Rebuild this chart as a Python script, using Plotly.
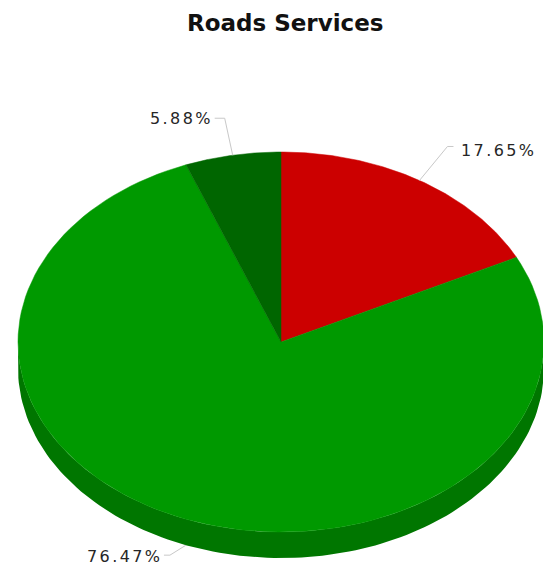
import math
import plotly.graph_objects as go

# Share of road service categories (percent)
categories = ["Category A", "Category B", "Category C"]
values = [17.65, 76.47, 5.88]
slice_colors = ["#cc0000", "#009900", "#006600"]
side_colors = ["#990000", "#007600", "#004c00"]
value_labels = [f"{v:.2f}%" for v in values]

# Pie geometry (axis units equal page pixels)
CX, CY = 281, 342
RX, RY = 263, 190
DEPTH = 26
W, H = 543, 567
SPACING = 2.4


def ellipse_pt(theta_deg, dy=0.0):
    t = math.radians(theta_deg)
    return CX + RX * math.sin(t), CY - RY * math.cos(t) + dy


def arc(a0, a1, dy=0.0, n=120):
    pts = []
    for i in range(n + 1):
        pts.append(ellipse_pt(a0 + (a1 - a0) * i / n, dy))
    return pts


total = sum(values)
bounds = []
acc = 0.0
for v in values:
    start = acc / total * 360.0
    acc += v
    bounds.append((start, acc / total * 360.0))

fig = go.Figure()

# Side wall: only the front half (90..270 deg clockwise from top) is visible
for (a0, a1), col in zip(bounds, side_colors):
    s0, s1 = max(a0, 90.0), min(a1, 270.0)
    if s1 <= s0:
        continue
    top = arc(s0, s1)
    bottom = arc(s1, s0, DEPTH)
    pts = top + bottom + [top[0]]
    fig.add_trace(go.Scatter(
        x=[p[0] for p in pts], y=[p[1] for p in pts],
        mode="lines", fill="toself", fillcolor=col,
        line=dict(width=0, color=col), hoverinfo="skip", showlegend=False,
    ))

# Top faces of the slices
for (a0, a1), col, name, v in zip(bounds, slice_colors, categories, values):
    pts = [(CX, CY)] + arc(a0, a1) + [(CX, CY)]
    fig.add_trace(go.Scatter(
        x=[p[0] for p in pts], y=[p[1] for p in pts],
        mode="lines", fill="toself", fillcolor=col,
        line=dict(width=0.5, color=col), name=name,
        hovertemplate=f"{name}: {v:.2f}%<extra></extra>", showlegend=False,
    ))

# Label placement: elbow offset from the slice edge and text side
label_style = [
    dict(elbow=(28, -34), run=6, side="right", ty=150),
    dict(elbow=(-16, 10), run=-6, side="left", ty=556),
    dict(elbow=(-8, -37), run=-10, side="left", ty=118),
]

annotations = []
for (a0, a1), text, st in zip(bounds, value_labels, label_style):
    mid = (a0 + a1) / 2.0
    dy = DEPTH if 90.0 < mid < 270.0 else 0.0
    ax, ay = ellipse_pt(mid, dy)
    ex, ey = ax + st["elbow"][0], ay + st["elbow"][1]
    hx = ex + st["run"]
    fig.add_trace(go.Scatter(
        x=[ax, ex, hx], y=[ay, ey, ey], mode="lines",
        line=dict(color="#c8c8c8", width=1), hoverinfo="skip", showlegend=False,
    ))
    if st["side"] == "right":
        tx, anchor = hx + 6, "left"
    else:
        tx, anchor = hx - 2 + SPACING, "right"
    annotations.append(dict(
        x=tx, y=st["ty"], xref="x", yref="y", showarrow=False,
        xanchor=anchor, yanchor="middle",
        text=f'<span style="letter-spacing:{SPACING}px">{text}</span>',
        font=dict(family="DejaVu Sans, Verdana, sans-serif", size=16, color="#262626"),
    ))

annotations.append(dict(
    x=285, y=23, xref="x", yref="y", showarrow=False,
    xanchor="center", yanchor="middle",
    text="<b>Roads Services</b>",
    font=dict(family="DejaVu Sans, Verdana, sans-serif", size=23, color="#111111"),
))

fig.update_layout(
    width=W, height=H,
    margin=dict(l=0, r=0, t=0, b=0),
    paper_bgcolor="white", plot_bgcolor="white",
    xaxis=dict(range=[0, W], visible=False, fixedrange=True),
    yaxis=dict(range=[H, 0], visible=False, fixedrange=True),
    annotations=annotations,
    showlegend=False,
)

fig.write_html("out.html")
